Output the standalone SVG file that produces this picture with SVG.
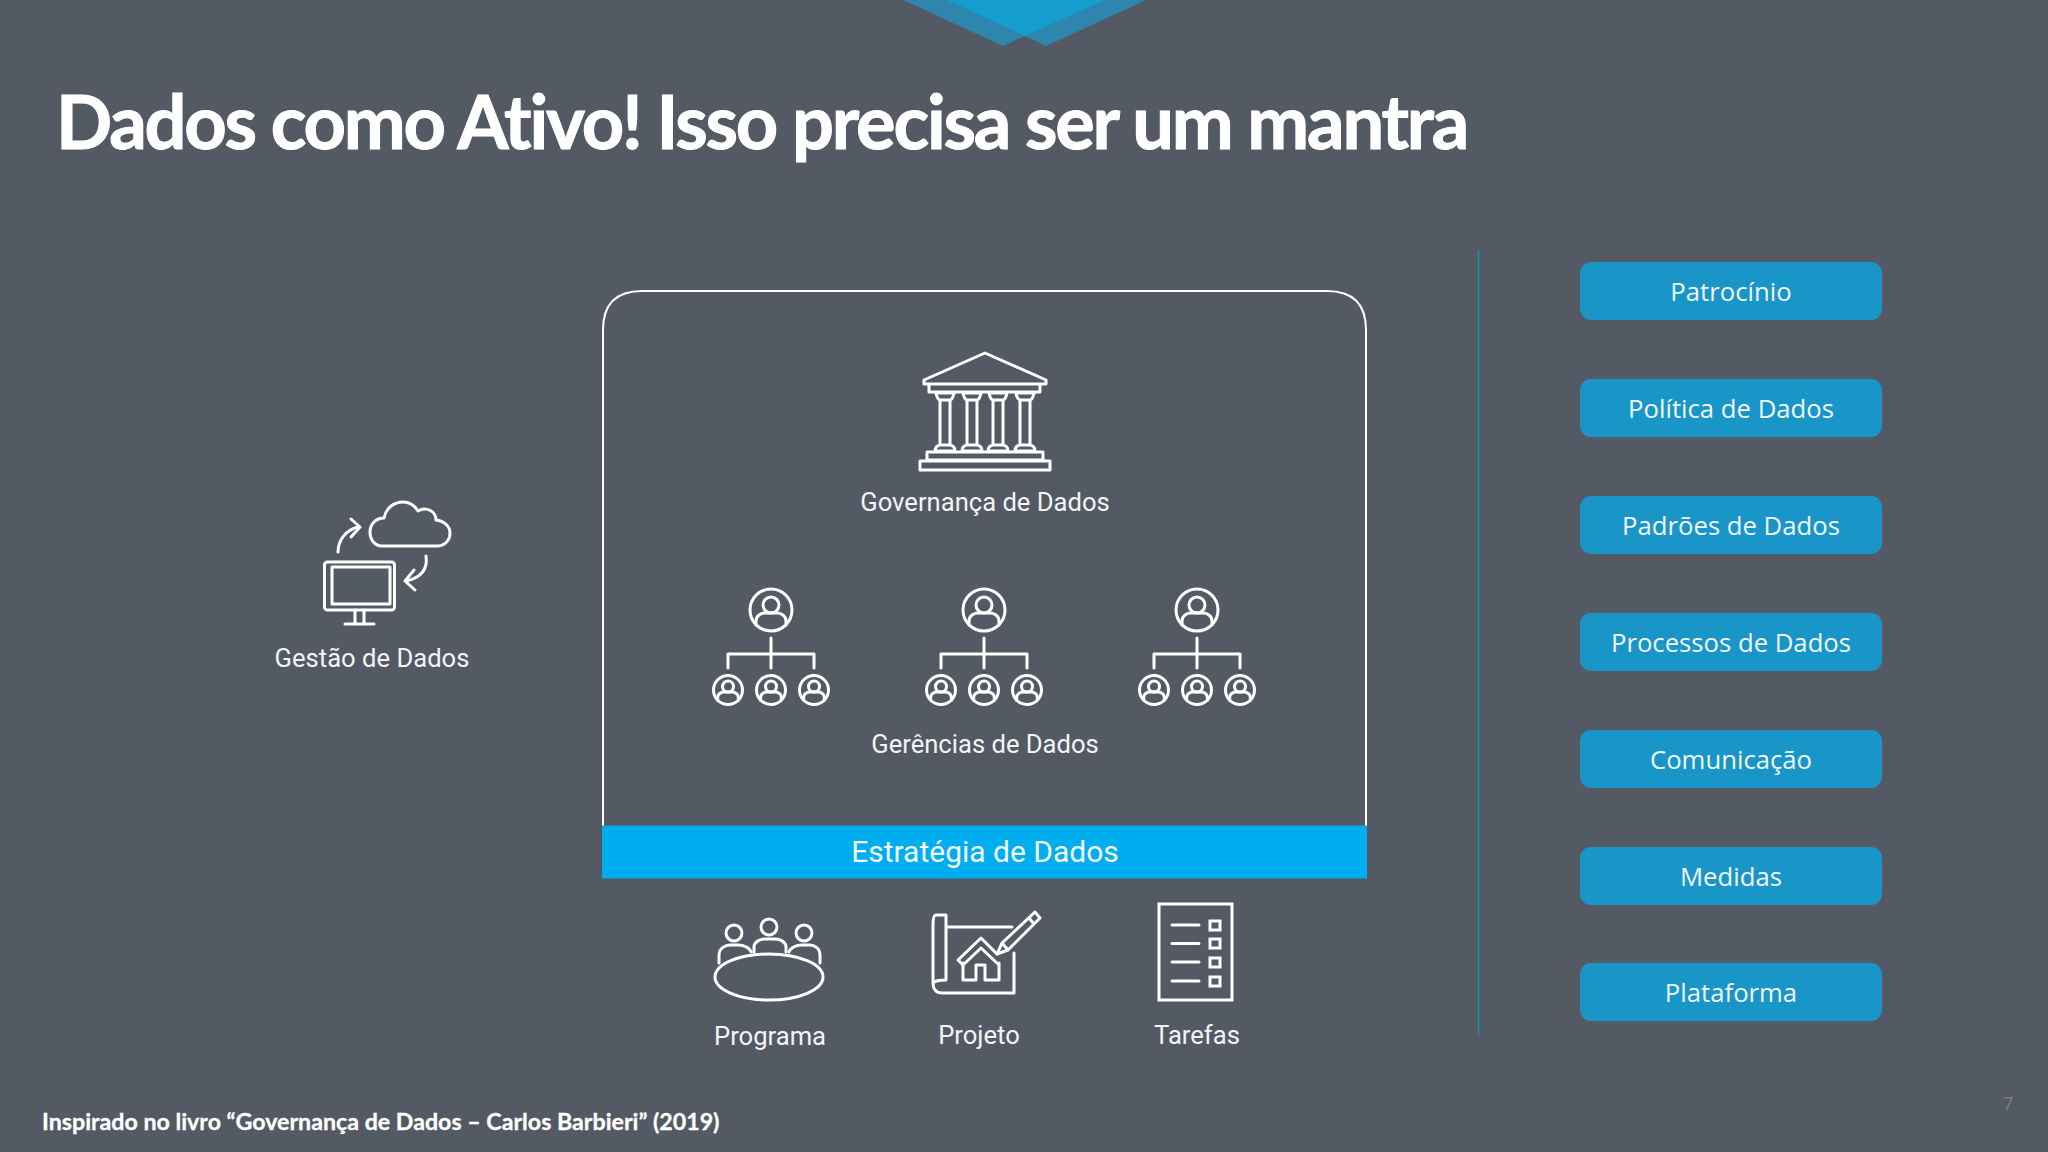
<svg xmlns="http://www.w3.org/2000/svg" width="2048" height="1152" viewBox="0 0 2048 1152">
<style>
.ic{fill:none;stroke:#fff;stroke-width:3;stroke-linejoin:round;stroke-linecap:round;vector-effect:non-scaling-stroke}
.ic2{fill:none;stroke:#fff;stroke-width:3}
.lb{font-family:Roboto,sans-serif;font-size:25.6px;fill:#f2f4f6;text-anchor:middle}
.bt{fill:#1a95c8}
.bl{font-family:"Open Sans",sans-serif;font-size:25.7px;fill:#eef8fc;text-anchor:middle}
</style>
<defs>
<g id="person"><circle r="21" class="ic"/><circle cy="-5" r="8" class="ic"/><path class="ic" d="M-15 15V11C-15 5-9 3-6 3H6C9 3 15 5 15 11V15"/></g>
<g id="org">
<use href="#person" x="0" y="0"/>
<path class="ic" d="M0 28V58M-43 58V44H43V58"/>
<use href="#person" transform="translate(-43 80) scale(.69)"/>
<use href="#person" transform="translate(0 80) scale(.69)"/>
<use href="#person" transform="translate(43 80) scale(.69)"/>
</g>
<g id="col"><path class="ic" d="M-9 393H9Q8 399 5 400V445Q10 446 10 451H-10Q-10 446 -5 445V400Q-8 399 -9 393ZM-5 400H5M-5 445H5"/></g>
</defs>
<rect width="2048" height="1152" fill="#545a63"/>
<g id="chevron">
<path d="M903 0L1003 46L1025 36L1046 46L1146 0Z" fill="#2e86ae"/>
<path d="M947 0L1025 36L1105 0Z" fill="#149dcd"/>
</g>
<text x="56" y="149" font-family="Lato,sans-serif" font-weight="700" font-size="74" letter-spacing="-2.2" fill="#fff" stroke="#fff" stroke-width="1">Dados como Ativo! Isso precisa ser um mantra</text>
<g id="connectors">
<path d="M1478.5 250V1035" stroke="#1a8fb8" stroke-width="1.5" fill="none"/>
</g>
<g id="main-frame">
<path d="M603 826V330Q603 291 642 291H1327Q1366 291 1366 330V826" fill="none" stroke="#fff" stroke-width="2"/>
</g>
<g id="estrategia">
<rect x="602" y="825.500" width="765" height="53" fill="#00aeef"/>
<text x="985" y="862" font-family="Roboto,sans-serif" font-size="30" fill="#f2fbff" text-anchor="middle">Estratégia de Dados</text>
</g>
<g id="governanca">
<path class="ic" d="M985 353L924 380V384H1046V380ZM929 384V392H1040V384Z"/>
<use href="#col" x="945"/><use href="#col" x="972"/><use href="#col" x="998"/><use href="#col" x="1025"/>
<path class="ic" d="M927 452H1043V460H927ZM920 461H1050V470H920Z"/>
<text class="lb" x="985" y="511">Governança de Dados</text>
</g>
<g id="gerencias">
<use href="#org" x="771" y="610"/>
<use href="#org" x="984" y="610"/>
<use href="#org" x="1197" y="610"/>
<text class="lb" x="985" y="753">Gerências de Dados</text>
</g>
<g id="gestao">
<path class="ic" d="M382 546C375 546 370 540 370 532C370 524 376 518 384 518C386 508 394 502 403 502C410 502 415 506 418 511C426 506 436 511 436 520C444 521 450 526 450 533C450 541 444 546 437 546Z"/>
<path class="ic" d="M338 552C338 540 346 530 358 527M351 519L360 527L351 537"/>
<path class="ic" d="M426 556C428 570 420 578 406 581M414 570L405 581L415 590"/>
<rect class="ic" x="324.500" y="562" width="70" height="48" rx="3"/>
<rect class="ic" x="332" y="567" width="58" height="37"/>
<path class="ic" d="M355 610V623M364 610V623M345 624H374"/>
<text class="lb" x="372" y="667">Gestão de Dados</text>
</g>
<g id="programa">
<circle class="ic" cx="734" cy="933" r="8"/><circle class="ic" cx="769" cy="927" r="8"/><circle class="ic" cx="804" cy="933" r="8"/>
<path class="ic" d="M719 963V955C719 948 726 945 730 945H738C744 945 750 948 751 952M754 952V947C754 942 760 939 765 939H775C780 939 786 942 786 947V952M789 952C790 948 796 945 802 945H810C814 945 820 948 820 955V963"/>
<ellipse class="ic" cx="769" cy="977" rx="54" ry="23"/>
<text class="lb" x="770" y="1045">Programa</text>
</g>
<g id="projeto">
<path class="ic" d="M946 915H936C934 915 933 917 933 925V983C936 980 940 980 946 980V915M946 927H1012M1014 953V993H942C936 993 933 989 933 983"/>
<path class="ic" d="M997 954L981 938L958 960L963 965L981 948L999 965M963 963V980H976V965H985V980H999V963"/>
<path class="ic" d="M997 954L1002 943L1035 912L1040 918L1008 950ZM1002 943L1008 950M1029 918L1034 924"/>
<text class="lb" x="979" y="1044">Projeto</text>
</g>
<g id="tarefas">
<rect class="ic2" x="1159" y="904" width="73" height="96"/>
<path class="ic" d="M1172 925H1199M1172 943.500H1199M1172 962H1199M1172 981H1199"/>
<rect class="ic2" x="1210" y="921" width="10" height="9"/><rect class="ic2" x="1210" y="939" width="10" height="9"/><rect class="ic2" x="1210" y="958" width="10" height="9"/><rect class="ic2" x="1210" y="977" width="10" height="9"/>
<text class="lb" x="1197" y="1044">Tarefas</text>
</g>
<g id="n1"><rect class="bt" x="1580" y="262" width="302" height="58" rx="11"/><text class="bl" x="1731" y="301">Patrocínio</text></g>
<g id="n2"><rect class="bt" x="1580" y="379" width="302" height="58" rx="11"/><text class="bl" x="1731" y="418">Política de Dados</text></g>
<g id="n3"><rect class="bt" x="1580" y="496" width="302" height="58" rx="11"/><text class="bl" x="1731" y="535">Padrões de Dados</text></g>
<g id="n4"><rect class="bt" x="1580" y="613" width="302" height="58" rx="11"/><text class="bl" x="1731" y="652">Processos de Dados</text></g>
<g id="n5"><rect class="bt" x="1580" y="730" width="302" height="58" rx="11"/><text class="bl" x="1731" y="769">Comunicação</text></g>
<g id="n6"><rect class="bt" x="1580" y="847" width="302" height="58" rx="11"/><text class="bl" x="1731" y="886">Medidas</text></g>
<g id="n7"><rect class="bt" x="1580" y="963" width="302" height="58" rx="11"/><text class="bl" x="1731" y="1002">Plataforma</text></g>
<text x="42" y="1129.500" font-family="Lato,sans-serif" font-weight="700" font-size="23.2" fill="#fff" stroke="#fff" stroke-width=".3">Inspirado no livro “Governança de Dados – Carlos Barbieri” (2019)</text>
<text x="2003" y="1110" font-family="'Open Sans',sans-serif" font-size="18" fill="#7a8087">7</text>
</svg>
